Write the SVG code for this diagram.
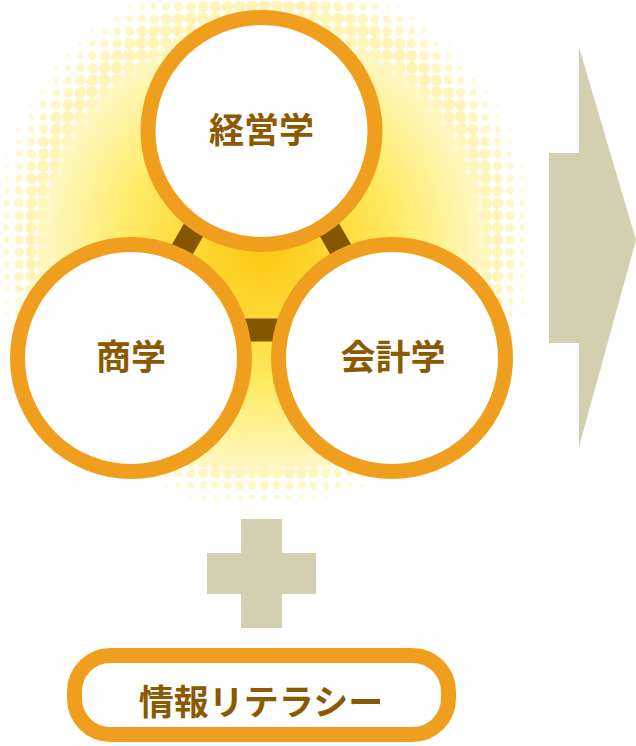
<svg xmlns="http://www.w3.org/2000/svg" width="636" height="746" viewBox="0 0 636 746">
<defs>
<style>
.ring{fill:#ffffff;stroke:#ef9f1d;stroke-width:15}
.lbl{font-family:"Noto Sans CJK JP","Noto Sans CJK SC",sans-serif;font-weight:700;fill:#8a5900;text-anchor:middle;dominant-baseline:central}
.bar{stroke:#855600;stroke-width:23;fill:none}
.gray{fill:#d3d0b1}
.ht{fill:none}
</style>
<radialGradient id="glow" cx="263" cy="250" r="232" gradientUnits="userSpaceOnUse">
<stop offset="0" stop-color="#fcc812"/>
<stop offset="0.35" stop-color="#fedc3c"/>
<stop offset="0.6" stop-color="#ffeb68"/>
<stop offset="0.8" stop-color="#fff39c"/>
<stop offset="0.92" stop-color="#fff6bc"/>
<stop offset="1" stop-color="#fff8c8" stop-opacity="0"/>
</radialGradient>
<pattern id="p6" width="12.3" height="12.3" patternUnits="userSpaceOnUse"><circle cx="6.15" cy="6.15" r="6.1" fill="#fff4b6"/></pattern>
<pattern id="p5" width="12.3" height="12.3" patternUnits="userSpaceOnUse"><circle cx="6.15" cy="6.15" r="5.2" fill="#fff5bd"/></pattern>
<pattern id="p4" width="12.3" height="12.3" patternUnits="userSpaceOnUse"><circle cx="6.15" cy="6.15" r="4.2" fill="#fff6c4"/></pattern>
<pattern id="p3" width="12.3" height="12.3" patternUnits="userSpaceOnUse"><circle cx="6.15" cy="6.15" r="3.2" fill="#fff7cc"/></pattern>
<pattern id="p2" width="12.3" height="12.3" patternUnits="userSpaceOnUse"><circle cx="6.15" cy="6.15" r="2.2" fill="#fff9d6"/></pattern>
<pattern id="p1" width="12.3" height="12.3" patternUnits="userSpaceOnUse"><circle cx="6.15" cy="6.15" r="1.3" fill="#fffbe0"/></pattern>
</defs>

<g id="halo">
<circle class="ht" cx="263" cy="238" r="220" stroke="url(#p6)" stroke-width="34"/>
<circle class="ht" cx="263" cy="238" r="241" stroke="url(#p5)" stroke-width="8"/>
<circle class="ht" cx="263" cy="238" r="249" stroke="url(#p4)" stroke-width="8"/>
<circle class="ht" cx="263" cy="238" r="257" stroke="url(#p3)" stroke-width="8"/>
<circle class="ht" cx="263" cy="238" r="265" stroke="url(#p2)" stroke-width="8"/>
<circle class="ht" cx="263" cy="238" r="273" stroke="url(#p1)" stroke-width="8"/>
<circle cx="263" cy="250" r="232" fill="url(#glow)"/>
</g>

<g id="connectors">
<line class="bar" x1="203" y1="213.6" x2="173" y2="265.6"/>
<line class="bar" x1="320" y1="213.6" x2="350" y2="265.6"/>
<line class="bar" x1="225" y1="330" x2="300" y2="330"/>
</g>

<g id="node-keiei">
<circle class="ring" cx="261.5" cy="131" r="113.5"/>
<text class="lbl" x="261.5" y="127" font-size="35">経営学</text>
</g>
<g id="node-shogaku">
<circle class="ring" cx="131" cy="358" r="113.5"/>
<text class="lbl" x="131" y="354" font-size="35">商学</text>
</g>
<g id="node-kaikei">
<circle class="ring" cx="392" cy="358" r="113.5"/>
<text class="lbl" x="393" y="354" font-size="35">会計学</text>
</g>

<g id="plus">
<rect class="gray" x="241" y="519" width="41" height="109"/>
<rect class="gray" x="207" y="553" width="109" height="41"/>
</g>

<g id="arrow">
<polygon class="gray" points="549,153 579,153 579,47 636,240 579,447 579,343 549,343"/>
</g>

<g id="node-joho">
<rect x="74.5" y="655.5" width="374" height="79" rx="36" ry="36" fill="#ffffff" stroke="#ef9f1d" stroke-width="15"/>
<text class="lbl" x="261" y="699" font-size="35">情報リテラシー</text>
</g>
</svg>
